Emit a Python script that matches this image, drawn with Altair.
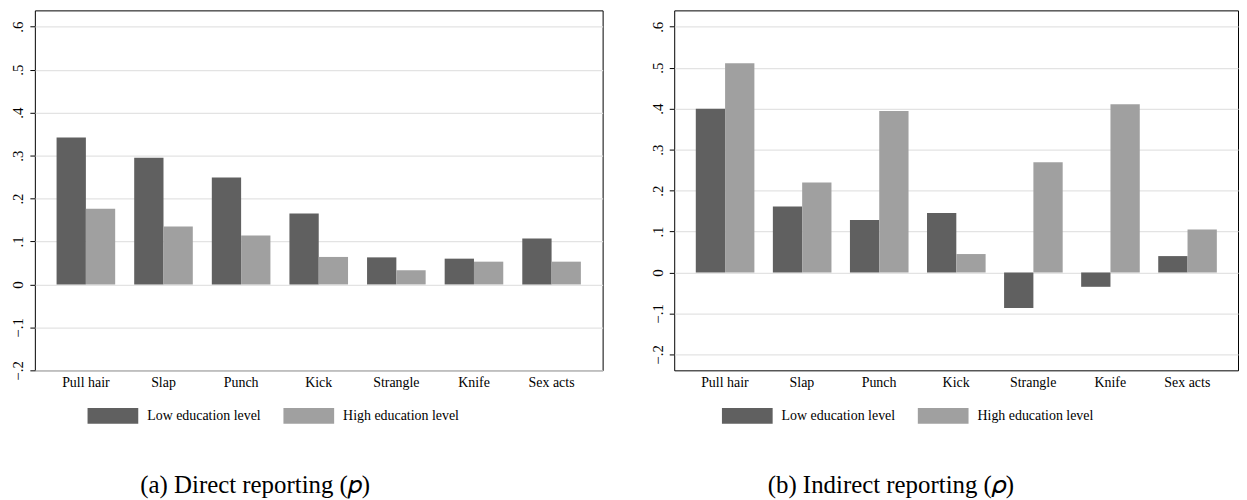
import altair as alt
import pandas as pd

acts = ["Pull hair", "Slap", "Punch", "Kick", "Strangle", "Knife", "Sex acts"]
levels = ["Low education level", "High education level"]

direct_low = [0.342, 0.295, 0.249, 0.165, 0.063, 0.060, 0.107]
direct_high = [0.176, 0.135, 0.114, 0.064, 0.033, 0.053, 0.053]

indirect_low = [0.400, 0.161, 0.128, 0.145, -0.087, -0.035, 0.040]
indirect_high = [0.511, 0.220, 0.394, 0.045, 0.269, 0.411, 0.105]

y_ticks = [-0.2, -0.1, 0.0, 0.1, 0.2, 0.3, 0.4, 0.5, 0.6]

def frame(low, high):
    rows = []
    for a, l, h in zip(acts, low, high):
        rows.append({"act": a, "level": levels[0], "value": l})
        rows.append({"act": a, "level": levels[1], "value": h})
    return pd.DataFrame(rows)

FONT = "Liberation Serif"
label_expr = ("datum.value == 0 ? '0' : (datum.value < 0 ? '\u2212' : '') + "
              "replace(format(abs(datum.value), '.1f'), '0.', '.')")

swatch = "M-1,-0.3137H1V0.3137H-1Z"

def panel(df, domain, width, legend_x, caption, cap_dx):
    return alt.Chart(df).mark_bar().encode(
        x=alt.X("act:N", sort=acts, title=None,
                scale=alt.Scale(paddingInner=0.245, paddingOuter=0.28),
                axis=alt.Axis(labelAngle=0, ticks=False, domain=False,
                              labelFont=FONT, labelFontSize=14, labelColor="black",
                              labelPadding=5)),
        xOffset=alt.XOffset("level:N", sort=levels, scale=alt.Scale(paddingInner=0, paddingOuter=0)),
        y=alt.Y("value:Q", title=None,
                scale=alt.Scale(domain=domain, nice=False, zero=False),
                axis=alt.Axis(values=y_ticks, labelExpr=label_expr, labelAngle=270,
                              labelAlign="center", labelBaseline="bottom",
                              labelFont=FONT, labelFontSize=15, labelColor="black",
                              labelPadding=4, tickSize=5, tickColor="black", tickWidth=1,
                              domain=False, grid=True, gridColor="#e3e3e3", gridWidth=1.3,
                              minExtent=26, maxExtent=26, labelFlush=False)),
        color=alt.Color("level:N", sort=levels,
                        scale=alt.Scale(domain=levels, range=["#606060", "#a0a0a0"]),
                        legend=alt.Legend(title=None, orient="none", legendX=legend_x, legendY=382,
                                          direction="horizontal", columns=2, columnPadding=22,
                                          symbolType=swatch, symbolSize=2601,
                                          symbolStrokeWidth=0, labelOffset=9,
                                          labelFont=FONT, labelFontSize=14, labelColor="black",
                                          padding=0)),
    ).properties(
        width=width, height=362,
        title=alt.TitleParams(caption, orient="bottom", anchor="start", dx=cap_dx,
                              offset=49, font=FONT, fontSize=25, fontWeight="normal",
                              color="black"),
    )

left = panel(frame(direct_low, direct_high), [-0.2, 0.638], 571, 53,
             "(a) Direct reporting (\U0001D45D)", 132)
right = panel(frame(indirect_low, indirect_high), [-0.239, 0.64], 567, 48,
              "(b) Indirect reporting (\U0001D70C)", 120)

chart = alt.hconcat(left, right, spacing=44).resolve_scale(
    y="independent", color="independent"
).configure(
    padding=0, background="white"
).configure_view(
    stroke="black", strokeWidth=1
)

chart.save("out.html", embed_options={"renderer": "svg", "actions": False})
